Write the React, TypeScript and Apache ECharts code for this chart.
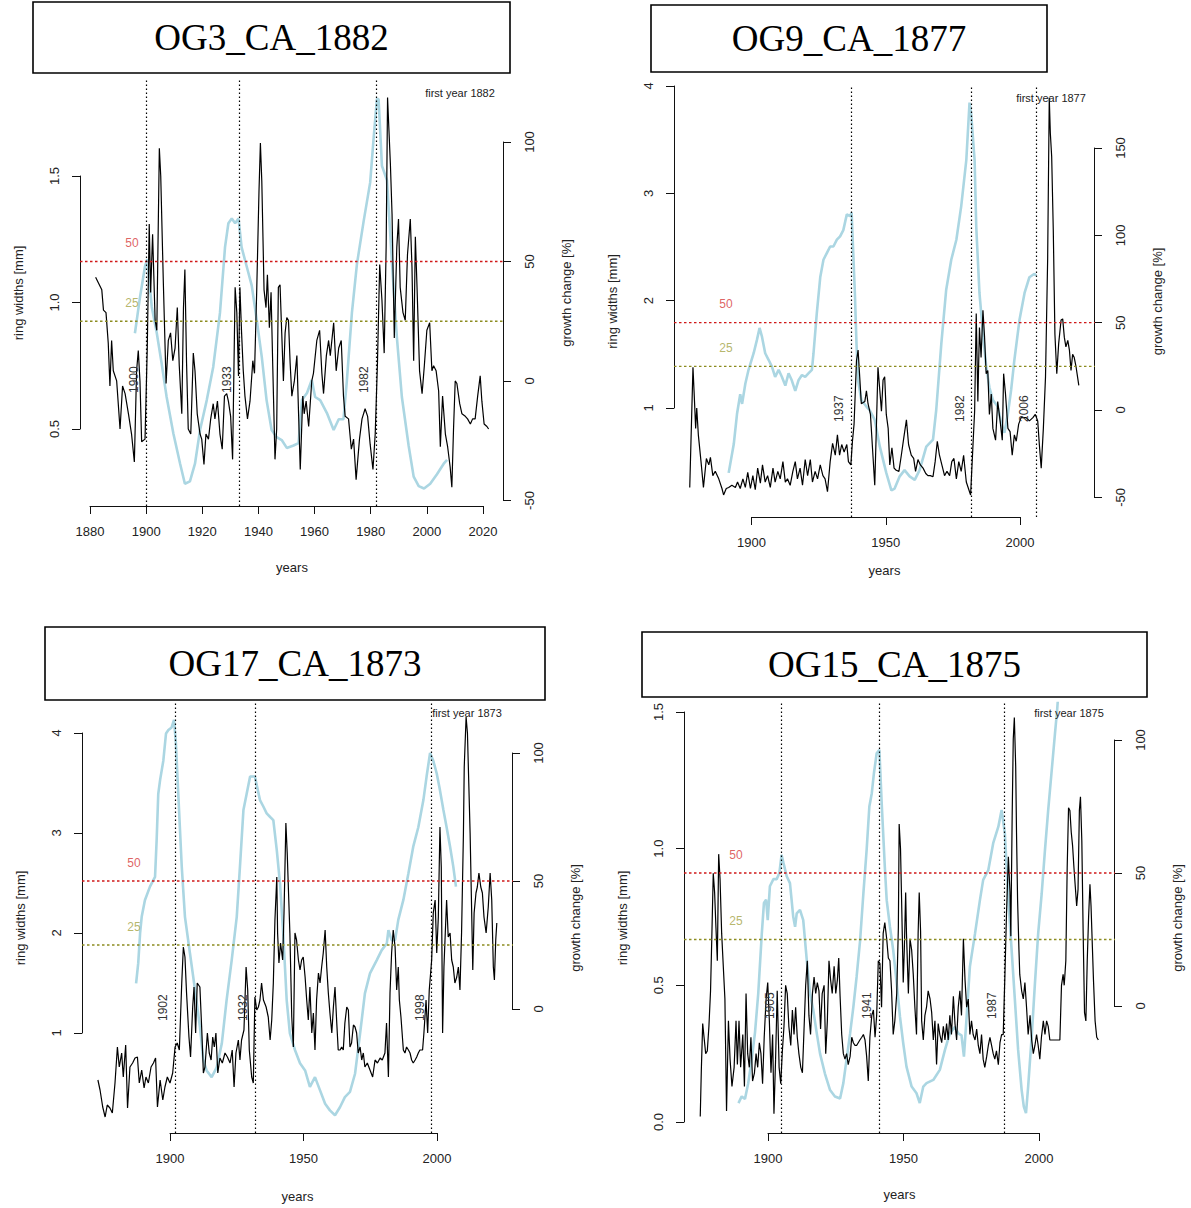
import React, { useEffect, useRef } from "react";
import * as echarts from "echarts";

// ---------- data ----------
// ring widths [mm]: [year, value]
const P1_RW: [number, number][] = [[1882,1.10],[1884.2,1.05],[1884.8,0.97],[1885.7,0.96],[1886.5,0.84],[1887.1,0.67],[1887.7,0.85],[1888.3,0.73],[1889.5,0.69],[1890.7,0.50],[1891.6,0.67],[1892.5,0.64],[1893.7,0.56],[1894.8,0.48],[1895.8,0.37],[1896.6,0.73],[1897.2,0.81],[1897.8,0.69],[1898.4,0.45],[1899.6,0.46],[1900.4,0.82],[1901.1,1.31],[1901.6,1.04],[1902.3,1.27],[1903.2,0.93],[1903.8,0.89],[1904.7,1.61],[1905.2,1.50],[1906.1,1.09],[1907.1,0.68],[1907.9,0.85],[1908.7,0.88],[1909.5,0.77],[1910.3,0.82],[1911.1,0.98],[1911.8,0.75],[1912.7,0.56],[1913.3,0.98],[1913.8,1.13],[1914.4,0.76],[1915,0.50],[1915.9,0.48],[1916.8,0.80],[1917.4,0.73],[1918.2,0.56],[1919.2,0.48],[1919.8,0.46],[1920.6,0.36],[1921.3,0.48],[1922.2,0.46],[1923,0.54],[1923.9,0.60],[1924.5,0.54],[1925.4,0.61],[1926.3,0.48],[1927.1,0.42],[1927.9,0.63],[1928.7,0.64],[1929.3,0.61],[1930.1,0.55],[1930.8,0.38],[1931.7,1.06],[1932.3,0.96],[1932.9,0.71],[1933.4,1.06],[1934,0.88],[1934.6,0.73],[1935.2,0.63],[1936.1,0.54],[1937,0.61],[1938,0.77],[1938.6,0.72],[1939.4,1.05],[1940.2,1.44],[1940.7,1.63],[1941.2,1.48],[1942,1.05],[1942.7,0.98],[1943.2,1.11],[1943.9,0.90],[1944.5,1.04],[1945.1,0.75],[1945.9,0.38],[1946.5,0.50],[1947.1,1.06],[1947.7,1.07],[1948.3,0.88],[1948.9,0.69],[1949.5,0.88],[1950.1,0.94],[1950.7,0.93],[1951.3,0.76],[1951.9,0.63],[1952.8,0.69],[1953.7,0.79],[1954.3,0.56],[1954.9,0.34],[1955.8,0.63],[1956.3,0.56],[1957,0.61],[1957.9,0.51],[1959,0.69],[1959.6,0.72],[1960.8,0.85],[1961.8,0.89],[1962.6,0.72],[1963.2,0.64],[1964.2,0.79],[1965,0.85],[1965.6,0.79],[1966.8,0.92],[1967.7,0.73],[1968.6,0.82],[1969.5,0.85],[1970.3,0.63],[1970.9,0.55],[1972.1,0.54],[1973.1,0.42],[1973.9,0.46],[1974.8,0.30],[1976,0.46],[1976.9,0.54],[1978,0.58],[1978.9,0.55],[1979.8,0.44],[1980.8,0.34],[1981.6,0.48],[1982.4,0.76],[1983.2,1.15],[1984,1.01],[1984.8,0.80],[1985.5,1.22],[1986,1.81],[1986.5,1.68],[1987,1.55],[1987.6,1.35],[1988.4,0.86],[1989.3,1.22],[1989.9,1.33],[1990.5,1.06],[1991.5,0.96],[1992.3,0.93],[1993.1,1.19],[1994.1,1.33],[1994.7,1.14],[1995.3,0.77],[1995.9,1.26],[1996.5,1.06],[1997.4,0.73],[1998.3,0.64],[1999.1,0.75],[2000,0.89],[2001,0.92],[2001.8,0.73],[2002.4,0.75],[2003.3,0.73],[2004.2,0.65],[2004.8,0.43],[2005.6,0.63],[2006.6,0.48],[2007.4,0.43],[2008.3,0.35],[2008.9,0.27],[2009.5,0.50],[2010.1,0.69],[2010.7,0.68],[2011.7,0.60],[2012.5,0.56],[2013.7,0.55],[2014.5,0.54],[2015.5,0.52],[2016.3,0.54],[2017.2,0.54],[2018.1,0.63],[2019,0.71],[2019.6,0.61],[2020.4,0.52],[2021.4,0.51],[2022,0.50]];
const P2_RW: [number, number][] = [[1877,0.26],[1878.2,1.38],[1878.6,1.16],[1879.2,0.81],[1879.6,1.0],[1880.2,0.75],[1881.2,0.50],[1882.1,0.26],[1883.2,0.53],[1884.1,0.47],[1884.7,0.54],[1885.6,0.37],[1886.5,0.41],[1887.8,0.34],[1889,0.25],[1889.6,0.19],[1890.6,0.25],[1891.5,0.26],[1892.7,0.28],[1894,0.26],[1894.8,0.31],[1895.8,0.25],[1896.8,0.34],[1897.7,0.26],[1898.6,0.40],[1899.6,0.25],[1900.5,0.37],[1901.4,0.24],[1902.3,0.44],[1903.3,0.30],[1904.1,0.47],[1905.1,0.31],[1906,0.37],[1907,0.26],[1908,0.44],[1908.8,0.31],[1909.8,0.41],[1910.7,0.34],[1911.7,0.50],[1912.6,0.31],[1913.4,0.34],[1914.4,0.28],[1915.4,0.41],[1916.3,0.50],[1917.1,0.34],[1918.1,0.44],[1919,0.28],[1920,0.52],[1920.9,0.37],[1921.9,0.52],[1922.7,0.31],[1923.7,0.41],[1924.6,0.34],[1925.6,0.47],[1926.6,0.37],[1927.4,0.34],[1928.3,0.22],[1929.3,0.50],[1930.2,0.67],[1931.2,0.56],[1932,0.75],[1932.8,0.56],[1933.6,0.66],[1934.5,0.59],[1935.5,0.66],[1936.1,0.50],[1937,0.47],[1937.6,0.69],[1938.2,0.85],[1939.1,1.44],[1939.7,1.54],[1940.3,1.29],[1940.9,1.04],[1942.2,1.06],[1942.8,1.16],[1943.4,1.04],[1944.3,0.94],[1945.3,0.53],[1945.9,0.28],[1946.5,0.81],[1947.1,1.38],[1947.8,1.16],[1948.4,0.97],[1949,1.26],[1949.6,1.29],[1950.2,0.94],[1950.9,0.81],[1951.5,0.47],[1952.3,0.63],[1953.1,0.44],[1953.9,0.42],[1954.9,0.41],[1955.8,0.56],[1956.7,0.72],[1957.7,0.89],[1958.5,0.66],[1959.5,0.56],[1960.4,0.53],[1961.1,0.41],[1962,0.52],[1962.9,0.47],[1963.9,0.44],[1964.9,0.39],[1965.7,0.37],[1966.6,0.37],[1967.6,0.36],[1968.4,0.50],[1969.2,0.69],[1970,0.56],[1970.9,0.47],[1971.9,0.37],[1972.8,0.41],[1973.8,0.37],[1974.6,0.50],[1975.4,0.53],[1976.3,0.34],[1977.2,0.50],[1978.1,0.41],[1979,0.56],[1980,0.31],[1980.8,0.25],[1981.6,0.19],[1982.5,0.66],[1983.1,0.97],[1983.7,1.88],[1984.3,1.06],[1984.9,1.75],[1985.5,1.47],[1986.2,1.91],[1986.8,1.66],[1987.4,1.32],[1988,1.35],[1988.6,0.94],[1989.3,1.13],[1989.9,0.81],[1990.9,0.70],[1991.7,1.06],[1992.6,0.88],[1993.4,0.70],[1993.9,1.32],[1994.6,1.13],[1995.5,0.81],[1996.3,0.78],[1997.1,0.56],[1997.9,0.75],[1998.6,0.69],[1999.5,0.85],[2000.4,0.91],[2001.3,0.91],[2002.3,0.91],[2003.5,0.88],[2004.8,0.91],[2005.7,0.94],[2006.6,0.88],[2007.2,0.66],[2007.9,0.44],[2008.7,0.81],[2009.5,1.29],[2010.3,2.39],[2010.9,3.89],[2011.3,3.56],[2011.8,3.34],[2012.4,2.65],[2013,1.69],[2013.7,1.32],[2014.4,1.60],[2015.3,1.82],[2015.9,1.83],[2016.5,1.66],[2017.1,1.57],[2017.8,1.63],[2018.4,1.54],[2019,1.35],[2019.6,1.50],[2020.2,1.47],[2020.9,1.38],[2021.9,1.21]];
const P3_RW: [number, number][] = [[1873,0.53],[1873.8,0.43],[1874.8,0.26],[1875.7,0.16],[1876.5,0.28],[1877.5,0.25],[1878.4,0.20],[1879.4,0.50],[1880.3,0.86],[1881,0.66],[1881.9,0.80],[1882.5,0.56],[1883.4,0.88],[1884.1,0.25],[1885,0.66],[1886,0.70],[1886.9,0.75],[1887.8,0.76],[1888.5,0.50],[1889.4,0.63],[1890.3,0.45],[1891,0.56],[1891.9,0.50],[1892.9,0.66],[1893.8,0.70],[1894.6,0.75],[1895.3,0.26],[1896.3,0.53],[1897.3,0.33],[1898.1,0.46],[1899,0.56],[1900,0.50],[1901,0.60],[1901.9,0.86],[1902.7,0.90],[1903.5,0.83],[1904.4,1.50],[1905,1.86],[1905.6,1.76],[1906.2,1.40],[1907.1,0.96],[1907.7,0.76],[1908.5,1.26],[1909,1.46],[1909.6,1.0],[1910.2,1.50],[1911.2,1.46],[1911.9,1.03],[1912.5,0.60],[1913.1,0.66],[1914,1.0],[1914.7,0.80],[1915.4,0.73],[1916,0.96],[1916.6,0.86],[1917.2,1.0],[1917.9,0.60],[1918.7,0.75],[1919.6,0.70],[1920.6,0.80],[1921.5,0.76],[1922.5,0.70],[1923.3,0.83],[1924,0.46],[1924.7,0.80],[1925.6,0.93],[1926.2,0.73],[1926.8,0.93],[1927.7,1.03],[1928.5,1.66],[1929.1,1.43],[1929.7,0.83],[1930.6,0.56],[1931.2,0.50],[1931.8,1.36],[1932.5,1.23],[1933.1,1.26],[1933.7,1.33],[1934.3,1.50],[1935,1.33],[1936,1.26],[1936.8,1.16],[1937.5,0.93],[1938.1,1.13],[1938.7,1.50],[1939.3,2.13],[1940,2.56],[1940.3,2.0],[1940.8,1.70],[1941.4,1.90],[1942.2,1.73],[1942.7,2.20],[1943.4,3.10],[1943.9,2.80],[1944.9,2.0],[1945.6,1.16],[1946.2,0.86],[1946.8,2.0],[1947.4,1.93],[1948.1,1.73],[1948.7,1.63],[1949.3,1.73],[1949.9,1.76],[1950.6,1.56],[1951.2,1.33],[1951.8,1.13],[1952.4,1.46],[1953.1,1.0],[1953.7,1.20],[1954.3,0.83],[1954.9,1.33],[1955.6,1.60],[1956.2,1.50],[1956.8,1.66],[1957.4,1.80],[1958.1,2.03],[1958.7,1.66],[1959.3,1.40],[1959.9,1.20],[1960.6,1.0],[1961.2,1.26],[1961.8,1.46],[1962.4,1.13],[1963,0.83],[1963.7,0.83],[1964.3,0.86],[1964.9,0.83],[1965.5,1.10],[1966.2,1.26],[1966.8,1.23],[1967.4,0.86],[1968,0.90],[1968.7,1.08],[1969.3,1.06],[1969.9,1.0],[1970.5,0.80],[1971.2,0.86],[1971.8,0.73],[1972.4,0.80],[1973,0.66],[1973.9,0.70],[1974.9,0.63],[1975.9,0.56],[1976.8,0.73],[1977.7,0.70],[1978.7,0.75],[1979.5,0.73],[1980.5,0.80],[1981.1,1.10],[1981.8,0.56],[1982.4,1.40],[1983,1.80],[1983.6,2.03],[1984.3,1.86],[1984.9,1.43],[1985.5,1.66],[1985.9,1.33],[1986.5,1.16],[1987.4,0.83],[1988,0.80],[1988.6,0.86],[1989.3,0.83],[1989.9,0.80],[1990.5,0.73],[1991.1,0.70],[1991.8,0.73],[1992.4,0.76],[1993,0.80],[1993.6,0.83],[1994.6,0.83],[1995.1,1.0],[1995.9,1.33],[1996.5,1.0],[1997.1,1.43],[1998,1.73],[1998.6,2.20],[1999.3,2.33],[1999.9,1.80],[2000.5,2.16],[2001.1,3.06],[2001.6,2.66],[2002.1,1.0],[2002.6,1.66],[2003.1,2.0],[2003.6,2.33],[2004.2,1.96],[2004.9,2.0],[2005.5,1.73],[2006.1,1.66],[2006.7,1.50],[2007.4,1.56],[2008,1.66],[2008.6,1.43],[2009.2,2.0],[2009.9,3.0],[2010.2,3.66],[2010.9,4.16],[2011.4,4.0],[2011.9,3.50],[2012.4,3.0],[2012.9,2.33],[2013.4,1.63],[2013.9,2.20],[2014.6,2.40],[2015.1,2.46],[2015.7,2.60],[2016.4,2.46],[2017,2.40],[2017.6,2.16],[2018.4,2.0],[2019.2,2.26],[2019.9,2.60],[2020.5,2.33],[2021.1,1.66],[2021.5,1.53],[2022,1.93],[2022.4,2.10]];
const P4_RW: [number, number][] = [[1875,0.02],[1875.4,0.19],[1875.9,0.36],[1876.4,0.31],[1877,0.25],[1877.6,0.26],[1878.2,0.35],[1878.8,0.48],[1879.3,0.69],[1879.8,0.91],[1880.3,0.84],[1880.8,0.71],[1881.3,0.59],[1881.8,0.98],[1882.3,0.89],[1882.9,0.69],[1883.5,0.57],[1884.1,0.45],[1884.7,0.04],[1885.4,0.37],[1886,0.23],[1886.7,0.13],[1887.5,0.20],[1888.2,0.37],[1888.7,0.21],[1889.3,0.37],[1889.9,0.20],[1890.7,0.32],[1891.3,0.13],[1891.9,0.47],[1892.5,0.25],[1893.1,0.20],[1893.7,0.31],[1894.3,0.15],[1895,0.18],[1895.6,0.25],[1896.2,0.20],[1896.8,0.29],[1897.4,0.25],[1898,0.14],[1898.6,0.31],[1899.3,0.45],[1899.9,0.51],[1900.5,0.37],[1901.1,0.18],[1901.7,0.32],[1902.2,0.03],[1902.8,0.23],[1903.4,0.48],[1904.1,0.20],[1904.7,0.14],[1905.3,0.26],[1905.9,0.35],[1906.5,0.50],[1907.1,0.47],[1907.7,0.35],[1908.4,0.28],[1909,0.41],[1909.6,0.32],[1910.2,0.42],[1910.8,0.31],[1911.4,0.25],[1912.1,0.20],[1912.7,0.18],[1913.3,0.34],[1913.9,0.50],[1914.5,0.59],[1915.1,0.39],[1915.7,0.32],[1916.4,0.47],[1917,0.53],[1917.6,0.47],[1918.2,0.51],[1918.8,0.48],[1919.4,0.34],[1920,0.47],[1920.7,0.50],[1921.3,0.25],[1921.9,0.37],[1922.5,0.59],[1923.1,0.52],[1923.7,0.47],[1924.4,0.57],[1925,0.47],[1925.6,0.52],[1926.1,0.60],[1926.6,0.46],[1927.2,0.32],[1927.8,0.25],[1928.4,0.23],[1929,0.25],[1929.6,0.21],[1930.3,0.24],[1930.9,0.31],[1931.5,0.29],[1932.1,0.28],[1932.7,0.28],[1933.3,0.29],[1933.9,0.30],[1934.6,0.31],[1935.2,0.32],[1935.8,0.30],[1936.4,0.24],[1937,0.15],[1937.6,0.31],[1938.3,0.39],[1938.9,0.41],[1939.5,0.31],[1940.1,0.39],[1940.7,0.59],[1941.3,0.58],[1941.9,0.42],[1942.5,0.69],[1943.1,0.73],[1943.8,0.67],[1944.4,0.60],[1945,0.59],[1945.6,0.48],[1946.2,0.32],[1946.8,0.37],[1947.5,0.47],[1948.1,0.71],[1948.4,1.09],[1948.9,1.0],[1949.3,0.81],[1949.9,0.51],[1950.3,0.63],[1950.8,0.84],[1951.1,0.69],[1951.8,0.47],[1952.4,0.67],[1953,0.63],[1953.6,0.54],[1954.2,0.42],[1954.8,0.32],[1955.4,0.69],[1955.8,0.84],[1956.3,0.70],[1956.7,0.37],[1957.3,0.30],[1957.9,0.39],[1958.5,0.42],[1959.1,0.48],[1959.8,0.45],[1960.4,0.40],[1961,0.30],[1961.6,0.37],[1962.2,0.21],[1962.8,0.36],[1963.4,0.32],[1964.1,0.29],[1964.7,0.35],[1965.3,0.30],[1965.9,0.36],[1966.5,0.30],[1967.1,0.39],[1967.7,0.32],[1968.4,0.46],[1969,0.36],[1969.6,0.30],[1970.2,0.42],[1970.8,0.48],[1971.4,0.39],[1972.1,0.67],[1972.7,0.52],[1973.3,0.42],[1973.9,0.45],[1974.5,0.32],[1975.1,0.37],[1975.7,0.32],[1976.4,0.30],[1977,0.34],[1977.6,0.28],[1978.2,0.25],[1978.8,0.32],[1979.4,0.23],[1980,0.20],[1980.7,0.24],[1981.3,0.28],[1981.9,0.31],[1982.5,0.28],[1983.1,0.25],[1983.7,0.23],[1984.3,0.26],[1985,0.21],[1985.6,0.29],[1986.2,0.32],[1986.8,0.32],[1987.4,0.53],[1988,0.76],[1988.7,0.97],[1989.3,0.84],[1989.6,0.68],[1990.1,1.12],[1990.5,1.40],[1990.9,1.48],[1991.4,1.30],[1991.7,1.06],[1992.1,0.81],[1992.6,0.63],[1992.9,0.54],[1993.6,0.48],[1994.2,0.45],[1994.8,0.51],[1995.4,0.42],[1996,0.32],[1996.7,0.39],[1997.3,0.30],[1997.9,0.25],[1998.5,0.28],[1999.1,0.32],[1999.7,0.28],[2000.3,0.23],[2000.9,0.31],[2001.6,0.37],[2002.2,0.32],[2002.8,0.37],[2003.4,0.35],[2004,0.30],[2007.7,0.30],[2008.3,0.50],[2008.9,0.54],[2009.3,0.50],[2009.9,0.59],[2010.4,0.93],[2010.9,1.15],[2011.4,1.14],[2011.9,1.06],[2012.4,1.01],[2012.9,0.93],[2013.4,0.86],[2013.9,0.79],[2014.4,0.85],[2014.9,1.14],[2015.3,1.19],[2015.8,1.03],[2016.3,0.69],[2016.8,0.40],[2017.3,0.37],[2017.8,0.59],[2018.3,0.75],[2018.8,0.87],[2019.2,0.79],[2019.7,0.64],[2020.1,0.52],[2020.7,0.37],[2021.3,0.31],[2021.9,0.30]];

// growth change [%]: [year, value]
const P1_GC: [number, number][] = [[1896,20],[1897.8,35],[1899.6,48],[1900.4,51],[1902,31],[1903.8,20],[1905.5,7.5],[1907.3,-6.7],[1909.7,-22],[1912.1,-34.6],[1913.8,-43],[1915.6,-42],[1917.4,-34.6],[1919.2,-20.5],[1921.6,-8],[1923.9,5.9],[1926.3,28.5],[1928.1,56],[1929.3,66],[1930.5,68],[1931.7,66],[1932.9,68],[1934,56],[1935.8,48],[1937.6,40],[1939.4,25.6],[1941.2,10],[1942.9,-8],[1944.7,-20.5],[1946.5,-23.5],[1948.3,-24.7],[1950.1,-28],[1952.5,-27],[1954.3,-26],[1955.5,-8],[1957.3,-5],[1959,0.4],[1960.2,-6.7],[1962,-8],[1964.4,-13.4],[1966.8,-20.5],[1968.6,-16],[1970.3,-16],[1971.5,0],[1973.3,28.5],[1975.1,49],[1977.5,67],[1979.8,83],[1981,101],[1982.2,118],[1982.8,118],[1984,90],[1985.8,84],[1987.6,49],[1989.3,18.6],[1991.1,-6.7],[1993.5,-27],[1995.3,-40],[1997.1,-44],[1999,-45],[2001.2,-43],[2003.6,-39],[2006,-34.6],[2007.2,-33]];
const P2_GC: [number, number][] = [[1891.5,-36],[1893.4,-19.5],[1894.6,-2.3],[1895.8,9],[1896.5,3.5],[1897.7,15],[1898.9,23],[1900.8,32.5],[1902,40],[1903,47],[1903.9,42],[1905.1,32.5],[1906.4,28.6],[1907.6,24.8],[1908.8,19],[1910.1,23],[1911.3,19],[1912.6,14],[1913.8,21],[1915,17],[1916.3,11],[1917.5,17],[1918.8,20],[1920,19],[1921.2,21],[1922.5,23],[1923.1,32.5],[1924.3,55],[1925.6,76],[1926.8,86],[1928.1,90],[1929.3,93.6],[1930.5,93.6],[1931.8,97.5],[1933,99.4],[1934.2,103],[1935.5,112],[1936.7,111],[1937.3,113],[1937.8,93.6],[1938.5,67],[1939.1,38],[1939.7,17],[1940.9,5.7],[1942.8,2],[1944,0],[1945.9,-5.7],[1947.8,-21],[1950.2,-36],[1952.1,-46],[1953.3,-45],[1955.2,-38],[1957,-34.4],[1958.9,-38],[1960.8,-40],[1962.6,-34.4],[1965.1,-21],[1967.6,-17],[1968.8,0],[1970.7,38],[1972.5,68.7],[1974.4,86],[1976.3,97.5],[1978.1,116.6],[1980,143],[1981.2,176],[1981.8,170],[1983.1,143],[1983.7,105],[1984.9,67],[1986.2,44],[1987.4,25],[1988.6,13],[1989.9,5.7],[1991.7,2],[1993,-7.6],[1994.2,-13],[1995.5,-2],[1996.7,11.5],[1997.9,28.6],[1999.8,51.5],[2001.7,67],[2003.5,76],[2005.4,78],[2006,77]];
const P3_GC: [number, number][] = [[1887.3,10],[1888.1,17.9],[1888.8,29.6],[1889.4,36],[1890.6,42.5],[1892.5,47.8],[1894.4,51.6],[1895,66],[1895.6,84],[1896.3,89.5],[1897.5,97],[1898.5,107.6],[1899.4,109],[1900.6,110],[1901.5,112.9],[1902.2,104],[1903.1,84],[1904.4,55.6],[1905.6,36],[1907.5,21.6],[1909.4,7.3],[1911.2,-7],[1912.5,-20],[1913.7,-24],[1915.6,-26.6],[1917.5,-22.8],[1919.4,-13.5],[1921.2,3.5],[1923.1,19],[1925,36],[1926.2,55.6],[1927.5,77.7],[1928.7,84],[1930,90.8],[1931.8,90.8],[1933.7,81.6],[1935,79],[1936.2,76.4],[1937.5,75],[1938.7,73.8],[1940,62],[1941.2,49],[1942.4,29.6],[1943.7,3.5],[1944.9,-9.5],[1946.8,-16],[1948.7,-21.2],[1950.6,-24],[1952.4,-30.4],[1954.3,-26.6],[1956.2,-31.8],[1958.1,-37],[1959.9,-39.6],[1961.8,-41.5],[1963.7,-38.3],[1965.5,-34.4],[1967.4,-32.4],[1969.3,-25.3],[1971.2,-9.5],[1973,6.1],[1974.9,13.9],[1977.4,19],[1979.3,23],[1981.2,25.6],[1981.8,30.8],[1983,26.9],[1984.3,26.9],[1985.5,34.8],[1987.4,42.6],[1989.3,53],[1991.1,63.4],[1993,71],[1994.9,81.6],[1996.1,90.8],[1997.4,100],[1998.6,97],[1999.9,92],[2001.1,85.5],[2002.4,77.7],[2003.6,71],[2004.9,63.4],[2006.1,55.6],[2007.1,47.8]];
const P4_GC: [number, number][] = [[1889.1,-36.5],[1890.3,-34],[1891.5,-35],[1892.7,-29],[1894,-20],[1895.2,-10],[1896.4,4.7],[1897.7,27],[1898.5,38.7],[1899.3,40],[1899.9,32.3],[1900.7,45],[1902,47.7],[1903.2,47.7],[1904.2,50],[1905,56.8],[1905.7,53.8],[1906.9,48.8],[1908.1,46.2],[1908.7,40],[1909.3,33.6],[1910,29.8],[1910.6,34.8],[1911.8,36.1],[1913,32.3],[1914.3,17.3],[1915.5,4.7],[1916.7,-1.5],[1918,-10.3],[1919.2,-17.9],[1921,-25.4],[1922.9,-31.6],[1924.7,-34],[1926.6,-34.8],[1927.8,-29],[1929,-20],[1930.3,-10.3],[1931.5,-0.3],[1932.7,11],[1934,24.8],[1935.2,42.4],[1936.4,58.7],[1937.4,75],[1938.3,80],[1939.1,87.6],[1940.1,95],[1941.1,96.3],[1941.9,77.4],[1942.5,64.9],[1943.1,52.4],[1943.8,39.8],[1945,29.8],[1946.2,21],[1947.5,8.5],[1948.7,-4],[1949.9,-14],[1951.1,-22.8],[1953,-30.3],[1954.8,-32.8],[1956,-36.5],[1957.3,-30.3],[1958.5,-29],[1961,-27.8],[1963.4,-24],[1965.3,-16.5],[1967.1,-10.3],[1969,-7.8],[1970.2,-10.3],[1971.4,-11],[1972.3,-19],[1973.3,-4],[1974.5,14.8],[1976.4,27.3],[1978.2,39.8],[1979.4,47.4],[1981.3,51.1],[1983.1,61.2],[1985,67.4],[1986.2,73.7],[1987.4,64.9],[1988.7,39.8],[1989.9,21],[1991.1,2.3],[1992.3,-16.5],[1993.6,-31.6],[1994.4,-37.8],[1995.2,-40.3],[1996,-30.3],[1997.3,-11.5],[1998.5,8.5],[1999.7,27.3],[2001,42.3],[2002.2,58.6],[2003.4,73.7],[2004.6,87.5],[2005.9,102.5],[2006.7,111.3],[2007.3,120]];

// event years (vertical dotted lines)
const P1_EVENTS = [1900, 1933, 1982];
const P2_EVENTS = [1937, 1982, 2006];
const P3_EVENTS = [1902, 1932, 1998];
const P4_EVENTS = [1905, 1941, 1987];

// growth-change thresholds
const THRESHOLDS = [50, 25];
const THRESHOLD_LINE = ["#d01818", "#8c8c20"];
const THRESHOLD_TEXT = ["#d63a3a", "#a3a345"];

const TITLES = ["OG3_CA_1882", "OG9_CA_1877", "OG17_CA_1873", "OG15_CA_1875"];
const FIRST_YEARS = ["first year 1882", "first year 1877", "first year 1873", "first year 1875"];

// axis ticks [min, max, step]
const X_TICKS = [[1880, 2020, 20], [1900, 2000, 50], [1900, 2000, 50], [1900, 2000, 50]];
const RW_TICKS = [[0.5, 1.5, 0.5], [1, 4, 1], [1, 4, 1], [0, 1.5, 0.5]];
const GC_TICKS = [[-50, 100, 50], [-50, 150, 50], [0, 100, 50], [0, 100, 50]];
const RW_DECIMALS = [1, 0, 0, 1];

// ---------- layout (pixels) ----------
type Cal = { a: number; pa: number; b: number; pb: number };
const inv = (c: Cal, p: number) => c.a + ((p - c.pa) * (c.b - c.a)) / (c.pb - c.pa);
const toPx = (c: Cal, v: number) => c.pa + ((v - c.a) * (c.pb - c.pa)) / (c.b - c.a);

const LAYOUT = [
  {
    box: [33, 2, 477, 71], first: [460, 93],
    plot: { l: 80, r: 504, t: 80, b: 506 },
    x: { a: 1880, pa: 90, b: 2020, pb: 483 },
    yl: { a: 0.5, pa: 429, b: 1.5, pb: 176 },
    yr: { a: 0, pa: 381, b: 100, pb: 142 },
    evAlong: 113, xNameGap: 55,
  },
  {
    box: [651, 5, 396, 67], first: [1051, 98],
    plot: { l: 674, r: 1095, t: 86, b: 517 },
    x: { a: 1900, pa: 751.5, b: 2000, pb: 1020 },
    yl: { a: 1, pa: 408, b: 4, pb: 86 },
    yr: { a: 0, pa: 410, b: 150, pb: 148 },
    evAlong: 95, xNameGap: 47,
  },
  {
    box: [45, 627, 500, 73], first: [467, 713],
    plot: { l: 82, r: 513, t: 703, b: 1133 },
    x: { a: 1900, pa: 170, b: 2000, pb: 437 },
    yl: { a: 1, pa: 1033, b: 4, pb: 733 },
    yr: { a: 0, pa: 1009, b: 100, pb: 753 },
    evAlong: 112, xNameGap: 57,
  },
  {
    box: [642, 632, 505, 65], first: [1069, 713],
    plot: { l: 684, r: 1115, t: 703, b: 1133 },
    x: { a: 1900, pa: 768, b: 2000, pb: 1039 },
    yl: { a: 0, pa: 1122, b: 1.5, pb: 712 },
    yr: { a: 0, pa: 1006, b: 100, pb: 740 },
    evAlong: 114, xNameGap: 55,
  },
];

const RW_DATA = [P1_RW, P2_RW, P3_RW, P4_RW];
const GC_DATA = [P1_GC, P2_GC, P3_GC, P4_GC];
const EVENTS = [P1_EVENTS, P2_EVENTS, P3_EVENTS, P4_EVENTS];

const SANS = '"Liberation Sans", Arial, sans-serif';
const SERIF = '"Liberation Serif", "Times New Roman", serif';
const INK = "#222";
const THRESH_LABEL_DX = 52; // px from the plot's left edge to the threshold label centre

function buildOption() {
  const grid: any[] = [];
  const xAxis: any[] = [];
  const yAxis: any[] = [];
  const series: any[] = [];
  const graphic: any[] = [];

  const hiddenParts = {
    axisLine: { show: false },
    axisTick: { show: false },
    axisLabel: { show: false },
    splitLine: { show: false },
  };
  const axisLineStyle = { color: "#111", width: 1 };
  const tickStyle = { show: true, inside: false, length: 8, lineStyle: axisLineStyle };
  const labelBase = { fontSize: 13, color: INK, fontFamily: SANS };
  const nameStyle = { fontSize: 13, color: INK, fontFamily: SANS };

  LAYOUT.forEach((L, i) => {
    const P = L.plot;
    const W = P.r - P.l;
    const H = P.b - P.t;
    const [xt0, xt1, xts] = X_TICKS[i];
    const [rt0, rt1, rts] = RW_TICKS[i];
    const [gt0, gt1, gts] = GC_TICKS[i];
    const xMin = inv(L.x, P.l), xMax = inv(L.x, P.r);

    // data grid
    const g = grid.length;
    grid.push({ left: P.l, top: P.t, width: W, height: H });
    const xi = xAxis.length;
    xAxis.push({
      gridIndex: g, type: "value", min: xMin, max: xMax, ...hiddenParts,
      name: "years", nameLocation: "middle", nameGap: L.xNameGap, nameTextStyle: nameStyle,
    });
    const yli = yAxis.length;
    yAxis.push({
      gridIndex: g, type: "value", position: "left", min: inv(L.yl, P.b), max: inv(L.yl, P.t), ...hiddenParts,
      name: "ring widths [mm]", nameLocation: "middle", nameRotate: 90, nameGap: 55, nameTextStyle: nameStyle,
    });
    const yri = yAxis.length;
    yAxis.push({
      gridIndex: g, type: "value", position: "right", min: inv(L.yr, P.b), max: inv(L.yr, P.t), ...hiddenParts,
      name: "growth change [%]", nameLocation: "middle", nameRotate: 90, nameGap: 56, nameTextStyle: nameStyle,
    });

    // left axis (ring widths), spanning only the tick range
    const lTop = toPx(L.yl, rt1), lBot = toPx(L.yl, rt0);
    const gl = grid.length;
    grid.push({ left: P.l, top: lTop, width: 1, height: lBot - lTop });
    xAxis.push({ gridIndex: gl, type: "value", show: false, min: 0, max: 1 });
    yAxis.push({
      gridIndex: gl, type: "value", position: "left", min: rt0, max: rt1, interval: rts,
      axisLine: { show: true, lineStyle: axisLineStyle }, axisTick: tickStyle, splitLine: { show: false },
      axisLabel: {
        ...labelBase, rotate: 90, margin: 19, showMinLabel: true, showMaxLabel: true,
        formatter: (v: number) => v.toFixed(RW_DECIMALS[i]),
      },
    });

    // right axis (growth change)
    const rTop = toPx(L.yr, gt1), rBot = toPx(L.yr, gt0);
    const gr = grid.length;
    grid.push({ left: P.r - 1, top: rTop, width: 1, height: rBot - rTop });
    xAxis.push({ gridIndex: gr, type: "value", show: false, min: 0, max: 1 });
    yAxis.push({
      gridIndex: gr, type: "value", position: "right", min: gt0, max: gt1, interval: gts,
      axisLine: { show: true, lineStyle: axisLineStyle }, axisTick: tickStyle, splitLine: { show: false },
      axisLabel: {
        ...labelBase, rotate: 90, margin: 19, showMinLabel: true, showMaxLabel: true,
        formatter: (v: number) => String(v),
      },
    });

    // bottom axis (years)
    const bL = toPx(L.x, xt0), bR = toPx(L.x, xt1);
    const gb = grid.length;
    grid.push({ left: bL, top: P.b - 1, width: bR - bL, height: 1 });
    xAxis.push({
      gridIndex: gb, type: "value", position: "bottom", min: xt0, max: xt1, interval: xts,
      axisLine: { show: true, lineStyle: axisLineStyle }, axisTick: tickStyle, splitLine: { show: false },
      axisLabel: {
        ...labelBase, margin: 19, showMinLabel: true, showMaxLabel: true,
        formatter: (v: number) => String(v),
      },
    });
    yAxis.push({ gridIndex: gb, type: "value", show: false, min: 0, max: 1 });

    // growth change (light blue)
    series.push({
      type: "line", xAxisIndex: xi, yAxisIndex: yri, data: GC_DATA[i],
      symbol: "none", showSymbol: false, clip: true, z: 2,
      lineStyle: { color: "#abd6e2", width: 2.6 },
    });

    // threshold lines across the whole plot, with their labels
    THRESHOLDS.forEach((t, k) => {
      series.push({
        type: "line", xAxisIndex: xi, yAxisIndex: yri, data: [[xMin, t], [xMax, t]],
        symbol: "none", showSymbol: false, z: 4, silent: true,
        color: THRESHOLD_LINE[k],
        lineStyle: { color: THRESHOLD_LINE[k], type: [2.5, 2.5], width: 1.3 },
      });
      series.push({
        type: "scatter", xAxisIndex: xi, yAxisIndex: yri,
        data: [[inv(L.x, P.l + THRESH_LABEL_DX), t]],
        symbolSize: 1, z: 5, silent: true,
        itemStyle: { color: "rgba(0,0,0,0)" },
        label: {
          show: true, position: "top", distance: 12, formatter: String(t),
          color: THRESHOLD_TEXT[k], fontSize: 12, fontFamily: SANS,
        },
      });
    });

    // ring widths (black) with event lines
    series.push({
      type: "line", xAxisIndex: xi, yAxisIndex: yli, data: RW_DATA[i],
      symbol: "none", showSymbol: false, clip: true, z: 3,
      lineStyle: { color: "#000", width: 1.2 },
      markLine: {
        silent: true, symbol: ["none", "none"], animation: false,
        lineStyle: { color: "#000", type: [1.5, 2.5], width: 1.2 },
        label: {
          show: true, position: "insideStartTop", color: "#333", fontSize: 12, fontFamily: SANS,
          distance: [L.evAlong, 6], formatter: (p: any) => String(p.value),
        },
        data: EVENTS[i].map((e) => ({ xAxis: e })),
      },
    });

    // title box
    const [bx, by, bw, bh] = L.box;
    graphic.push({
      type: "rect", shape: { x: bx, y: by, width: bw, height: bh },
      style: { fill: "#fff", stroke: "#000", lineWidth: 1.6 }, z: 10,
    });
    graphic.push({
      type: "text", x: bx + bw / 2, y: by + bh / 2, z: 11,
      style: {
        text: TITLES[i], fill: "#000", fontSize: 37, fontFamily: SERIF,
        textAlign: "center", textVerticalAlign: "middle", align: "center", verticalAlign: "middle",
      },
    });
    graphic.push({
      type: "text", x: L.first[0], y: L.first[1], z: 11,
      style: {
        text: FIRST_YEARS[i], fill: INK, fontSize: 11, fontFamily: SANS,
        textAlign: "center", textVerticalAlign: "middle", align: "center", verticalAlign: "middle",
      },
    });
  });

  return {
    animation: false,
    backgroundColor: "#fff",
    textStyle: { fontFamily: SANS },
    grid, xAxis, yAxis, series, graphic,
  };
}

export default function App() {
  const ref = useRef<HTMLDivElement>(null);
  useEffect(() => {
    if (!ref.current) return;
    const chart = echarts.init(ref.current, undefined, { renderer: "svg" });
    chart.setOption(buildOption() as any);
    return () => chart.dispose();
  }, []);
  return (
    <div
      ref={ref}
      style={{ position: "absolute", left: 0, top: 0, width: 1191, height: 1208, background: "#fff" }}
    />
  );
}
